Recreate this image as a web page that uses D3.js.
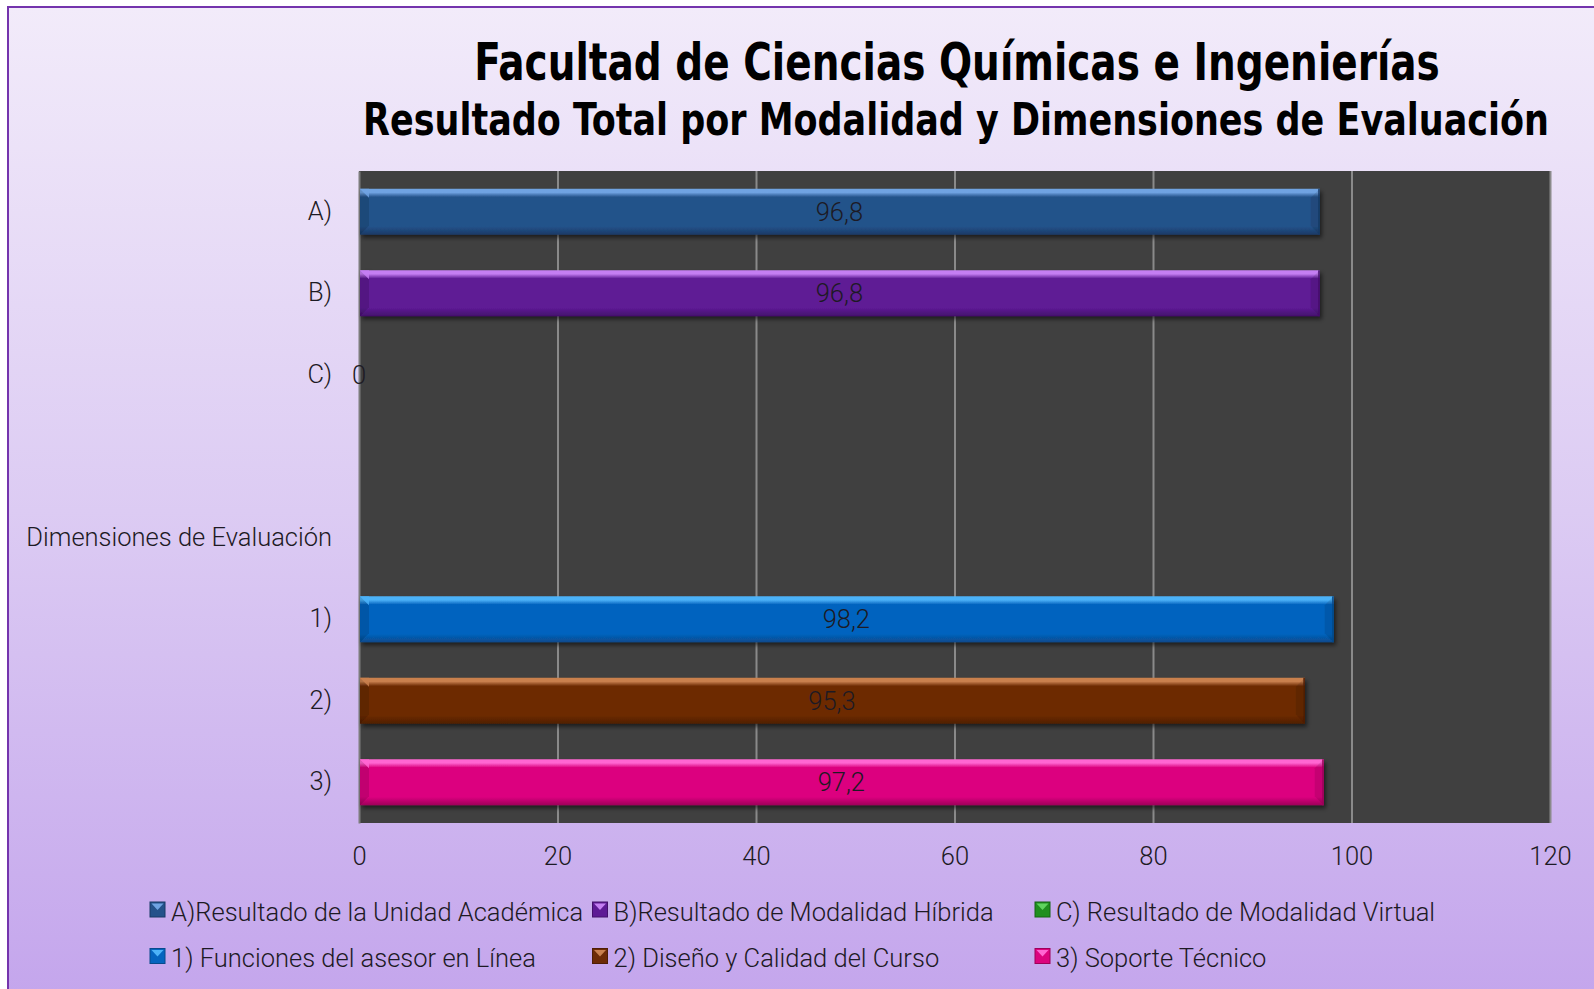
<!DOCTYPE html>
<html>
<head>
<meta charset="utf-8">
<script src="https://d3js.org/d3.v7.min.js"></script>
<style>
  body { margin: 0; background: #ffffff; overflow: hidden; }
  text { font-family: Roboto, "Noto Sans", sans-serif; font-weight: 300; fill: #1d1a24; }
  .title { font-family: "DejaVu Sans Condensed", "DejaVu Sans", sans-serif; font-weight: bold; fill: #000; }
</style>
</head>
<body>
<script>
// rows of the chart, top to bottom (blank row is a spacer like in the original)
var categories = ["A)", "B)", "C)", " ", "Dimensiones de Evaluación", "1)", "2)", "3)"];
// value for each row, null = no bar
var values = [96.8, 96.8, 0, null, null, 98.2, 95.3, 97.2];
var xTicks = [0, 20, 40, 60, 80, 100, 120];

// legend entries, in reading order
var legendKeys = ["A)", "B)", "C)", "1)", "2)", "3)"];
var legendLabels = [
  "A)Resultado de la Unidad Académica",
  "B)Resultado de Modalidad Híbrida",
  "C) Resultado de Modalidad Virtual",
  "1) Funciones del asesor en Línea",
  "2) Diseño y Calidad del Curso",
  "3) Soporte Técnico"
];

var titleLines = [
  "Facultad de Ciencias Químicas e Ingenierías",
  "Resultado Total por Modalidad y Dimensiones de Evaluación"
];

// colour per series: light top edge, body, dark bottom edge
var colours = {
  "A)": { light: "#6fa3e2", main: "#24528a", dark: "#183a66" },
  "B)": { light: "#c47ef2", main: "#5e1a95", dark: "#44106c" },
  "C)": { light: "#5fd35f", main: "#1f8f1f", dark: "#146414" },
  "1)": { light: "#4cb2f8", main: "#0564bf", dark: "#084a8c" },
  "2)": { light: "#c9804e", main: "#6d2b06", dark: "#4f1e06" },
  "3)": { light: "#ff66d2", main: "#dc047f", dark: "#9e005a" }
};

var W = 1594, H = 989;
var margin = { left: 359, right: 44, top: 171, bottom: 166 };
var fontSize = 25.5;

var svg = d3.select("body").append("svg")
  .attr("width", W)
  .attr("height", H);

var defs = svg.append("defs");

// background of the chart frame
var bg = defs.append("linearGradient")
  .attr("id", "bg")
  .attr("x1", 0).attr("y1", 0).attr("x2", 0).attr("y2", 1);
bg.append("stop").attr("offset", "0%").attr("stop-color", "#f2ebfa");
bg.append("stop").attr("offset", "50%").attr("stop-color", "#dccbf3");
bg.append("stop").attr("offset", "100%").attr("stop-color", "#c3a4ec");

var shadow = defs.append("filter")
  .attr("id", "shadow")
  .attr("x", "-5%").attr("y", "-30%").attr("width", "110%").attr("height", "170%");
shadow.append("feDropShadow")
  .attr("dx", 2).attr("dy", 3)
  .attr("stdDeviation", 2)
  .attr("flood-color", "#000")
  .attr("flood-opacity", 0.55);

// one vertical gradient per series
Object.keys(colours).forEach(function(k, i) {
  var c = colours[k];
  var g = defs.append("linearGradient")
    .attr("id", "grad" + i)
    .attr("x1", 0).attr("y1", 0).attr("x2", 0).attr("y2", 1);
  g.append("stop").attr("offset", "0%").attr("stop-color", c.light);
  g.append("stop").attr("offset", "8%").attr("stop-color", c.light);
  g.append("stop").attr("offset", "18%").attr("stop-color", c.main);
  g.append("stop").attr("offset", "82%").attr("stop-color", c.main);
  g.append("stop").attr("offset", "100%").attr("stop-color", c.dark);
  c.grad = "url(#grad" + i + ")";
});

svg.append("rect")
  .attr("x", 8).attr("y", 7)
  .attr("width", W + 20).attr("height", H + 20)
  .attr("fill", "url(#bg)")
  .attr("stroke", "#7434ad")
  .attr("stroke-width", 2);

// titles: the original face is narrow, so squeeze the text horizontally
var titleX = [957, 956], titleY = [80, 135], titleSize = [52, 45], titleWidth = [966, 1186];
titleLines.forEach(function(t, i) {
  var txt = svg.append("text")
    .attr("class", "title")
    .attr("text-anchor", "middle")
    .attr("font-size", titleSize[i])
    .text(t);
  var len = txt.node().getComputedTextLength();
  txt.attr("transform", "translate(" + titleX[i] + "," + titleY[i] + ") scale(" + (titleWidth[i] / len) + ",1)");
});

var width = W - margin.left - margin.right;
var height = H - margin.top - margin.bottom;

var x = d3.scaleLinear().domain([0, 120]).range([0, width]);
var y = d3.scaleBand()
  .domain(categories)
  .range([0, height])
  .paddingInner(0.436)
  .paddingOuter(0.218);

var canvas = svg.append("g")
  .attr("transform", "translate(" + margin.left + "," + margin.top + ")");

canvas.append("rect")
  .attr("width", width).attr("height", height)
  .attr("fill", "#404040");

// grid lines
canvas.append("g")
  .attr("class", "grid")
  .call(d3.axisBottom(x).tickValues(xTicks.slice(1)).tickSize(height).tickFormat(""))
  .call(function(g) {
    g.select(".domain").remove();
    g.selectAll("line").attr("stroke", "#8a8a8a").attr("stroke-width", 2);
  });

// x axis labels
canvas.append("g")
  .attr("transform", "translate(0," + height + ")")
  .call(d3.axisBottom(x).tickValues(xTicks).tickSize(0).tickPadding(24))
  .call(function(g) {
    g.select(".domain").remove();
    g.selectAll("text")
      .attr("font-size", fontSize)
      .attr("fill", "#1d1a24");
  });

// y axis
canvas.append("g")
  .call(d3.axisLeft(y).tickSize(0).tickPadding(27))
  .call(function(g) {
    g.select(".domain").attr("stroke", "#7c7c7c").attr("stroke-width", 2);
    g.selectAll("text")
      .attr("font-size", fontSize)
      .attr("fill", "#1d1a24");
  });
// let the css font apply to the axis texts
svg.selectAll("g.tick").each(function() { d3.select(this.parentNode).attr("font-family", null).attr("font-size", null); });

var rows = categories.map(function(c, i) { return { key: c, value: values[i] }; })
  .filter(function(d) { return d.value !== null; });

var bar = canvas.selectAll("g.bar")
  .data(rows.filter(function(d) { return d.value > 0; }))
  .enter()
  .append("g")
    .attr("class", "bar")
    .attr("filter", "url(#shadow)");

bar.append("rect")
  .attr("x", x(0) + 1)
  .attr("y", function(d) { return y(d.key); })
  .attr("width", function(d) { return x(d.value) - x(0) - 1; })
  .attr("height", y.bandwidth())
  .attr("fill", function(d) { return colours[d.key].grad; });

// bevel on the left end: light top corner, darker side
bar.append("path")
  .attr("d", function(d) {
    var x0 = x(0) + 1, y0 = y(d.key), b = 9, h = y.bandwidth();
    return "M" + x0 + "," + y0 + "L" + (x0 + b) + "," + (y0 + b) +
      "L" + (x0 + b) + "," + (y0 + h - b) + "L" + x0 + "," + (y0 + h) + "Z";
  })
  .attr("fill", "#000")
  .attr("opacity", 0.12);
bar.append("path")
  .attr("d", function(d) {
    var x0 = x(0) + 1, y0 = y(d.key), b = 9;
    return "M" + x0 + "," + y0 + "L" + (x0 + b) + "," + y0 + "L" + (x0 + b) + "," + (y0 + b) + "Z";
  })
  .attr("fill", function(d) { return colours[d.key].light; })
  .attr("opacity", 0.8);

// bevel on the right end
bar.append("path")
  .attr("d", function(d) {
    var x1 = x(d.value), y0 = y(d.key), b = 9, h = y.bandwidth();
    return "M" + x1 + "," + y0 + "L" + (x1 - b) + "," + (y0 + b) +
      "L" + (x1 - b) + "," + (y0 + h - b) + "L" + x1 + "," + (y0 + h) + "Z";
  })
  .attr("fill", "#000")
  .attr("opacity", 0.1);

bar.append("rect")
  .attr("x", function(d) { return x(d.value) - 1.5; })
  .attr("y", function(d) { return y(d.key); })
  .attr("width", 1.5)
  .attr("height", y.bandwidth())
  .attr("fill", function(d) { return colours[d.key].dark; });

// data labels
var fmt = function(v) { return v === 0 ? "0" : d3.format(".1f")(v).replace(".", ","); };
canvas.selectAll("text.value")
  .data(rows)
  .enter()
  .append("text")
    .attr("class", "value")
    .attr("x", function(d) { return (x(0) + x(d.value)) / 2; })
    .attr("y", function(d) { return y(d.key) + y.bandwidth() / 2; })
    .attr("dy", "0.35em")
    .attr("text-anchor", "middle")
    .attr("font-size", fontSize)
    .attr("fill", "#121826")
    .text(function(d) { return fmt(d.value); });

// legend, three columns
var legend = svg.append("g")
  .attr("transform", "translate(150,902)");
var colW = 442.5, rowH = 46.5;

var item = legend.selectAll("g.item")
  .data(legendKeys)
  .enter()
  .append("g")
    .attr("class", "item")
    .attr("transform", function(d, i) {
      return "translate(" + (i % 3) * colW + "," + Math.floor(i / 3) * rowH + ")";
    });

item.append("rect")
  .attr("width", 15).attr("height", 15)
  .attr("fill", function(d) { return colours[d].main; })
  .attr("stroke", function(d) { return colours[d].dark; })
  .attr("stroke-width", 1);
item.append("path")
  .attr("d", "M1.5,1.5L13.5,1.5L7.5,8Z")
  .attr("fill", function(d) { return colours[d].light; });

item.append("text")
  .attr("x", 21)
  .attr("y", 18.5)
  .attr("font-size", fontSize)
  .text(function(d, i) { return legendLabels[i]; });
</script>
</body>
</html>
